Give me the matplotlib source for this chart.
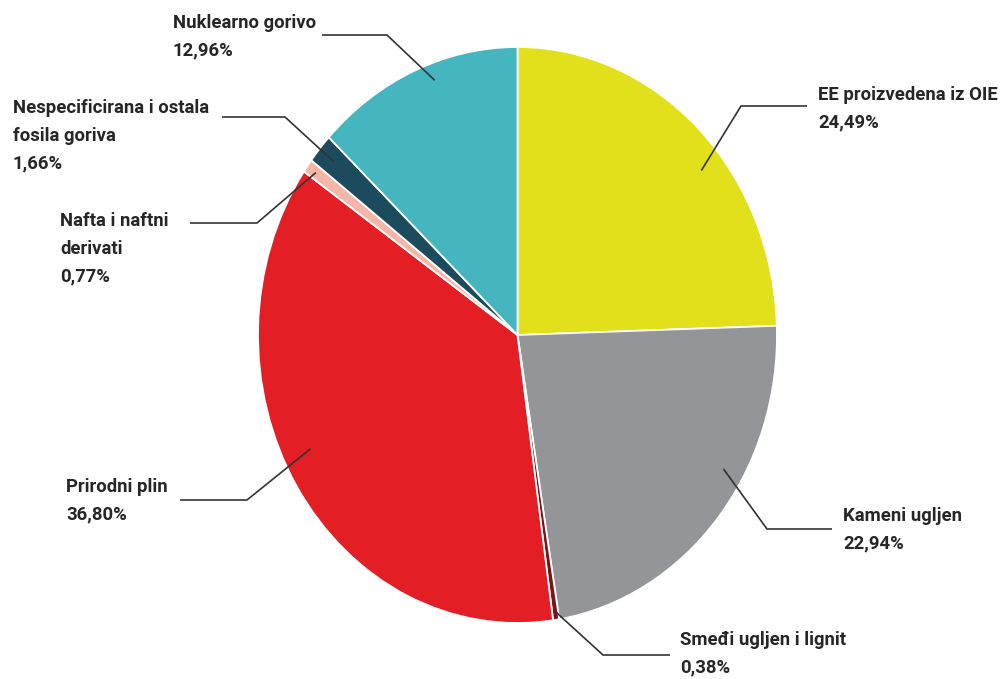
import numpy as np
import matplotlib.pyplot as plt

plt.rcParams["font.family"] = ["Roboto", "DejaVu Sans"]

labels = [
    "EE proizvedena iz OIE",
    "Kameni ugljen",
    "Smeđi ugljen i lignit",
    "Prirodni plin",
    "Nafta i naftni\nderivati",
    "Nespecificirana i ostala\nfosila goriva",
    "Nuklearno gorivo",
]
shares = [24.49, 22.94, 0.38, 36.80, 0.77, 1.66, 12.96]
colors = ["#e1e01b", "#939598", "#7a1418", "#e31e25", "#f4b7a7", "#1b4b5c", "#45b5bf"]

W, H = 1008, 679
cx, cy, rx, ry = 517.5, 335, 259.5, 288


def px(x, y):
    # pixel position -> data units of the (stretched) pie
    return ((x - cx) / rx, (cy - y) / ry)


# leader layout: position inside wedge (fraction of its angle, radius), elbow, line end, text top-left
layout = [
    (0.58, 0.91, (741, 106), (807, 106), (818, 86)),
    (0.39, 0.92, (767, 529), (832, 529), (843, 507)),
    (0.50, 0.97, (603, 655), (670, 655), (680, 631)),
    (0.54, 0.89, (247, 500), (180, 500), (66, 478)),
    (0.50, 0.96, (257, 223), (190, 223), (60, 212)),
    (0.50, 0.93, (285, 117), (222, 117), (13, 99)),
    (0.575, 0.94, (387, 35), (322, 35), (173, 14)),
]

fig = plt.figure(figsize=(W / 100, H / 100), dpi=100)
ax = fig.add_axes([0, 0, 1, 1])
wedges, _ = ax.pie(shares, colors=colors, startangle=90, counterclock=False, radius=1,
                   wedgeprops=dict(edgecolor="white", linewidth=1.3))
ax.set_aspect("auto")
ax.set_xlim(-cx / rx, (W - cx) / rx)
ax.set_ylim(-(H - cy) / ry, cy / ry)
ax.axis("off")

for w, lab, val, (f, r, elbow, end, txt) in zip(wedges, labels, shares, layout):
    lo, hi = min(w.theta1, w.theta2), max(w.theta1, w.theta2)
    ang = np.deg2rad(hi - f * (hi - lo))
    p0 = (r * np.cos(ang), r * np.sin(ang))
    p1 = px(*elbow)
    p2 = px(*end)
    ax.plot([p0[0], p1[0], p2[0]], [p0[1], p1[1], p2[1]], color="#333333", lw=1.2,
            solid_capstyle="butt")
    s = lab + "\n" + f"{val:.2f}".replace(".", ",") + "%"
    tx, ty = px(*txt)
    ax.text(tx, ty, s, ha="left", va="top", fontsize=13.3, fontweight="bold",
            color="#262626", linespacing=1.68)

fig.savefig("out.png", dpi=100)
